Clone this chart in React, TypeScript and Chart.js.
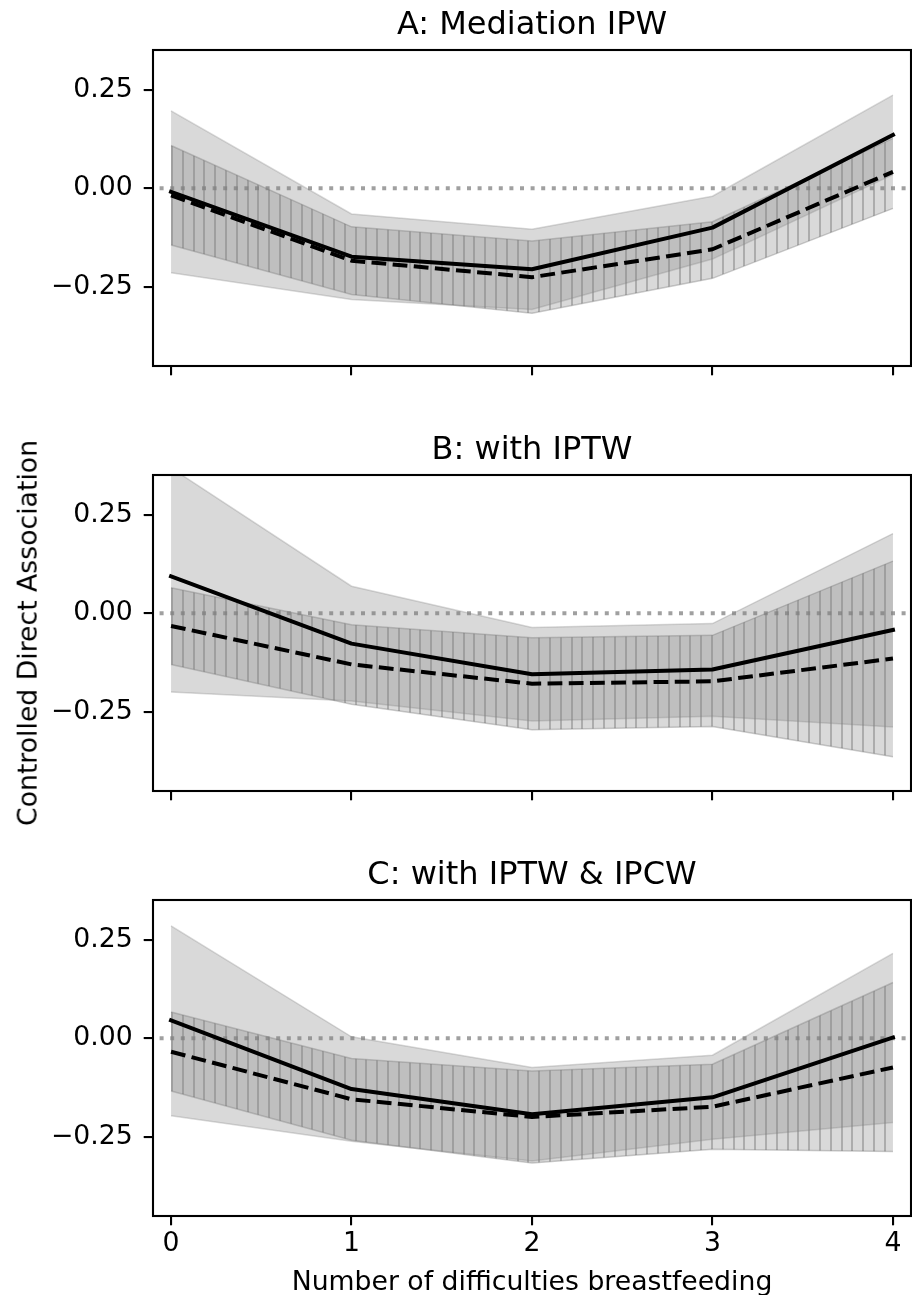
import React, { useEffect, useRef } from "react";
import { Chart, registerables } from "chart.js";

Chart.register(...registerables);

// ---------------- data ----------------
const X_VALUES = [0, 1, 2, 3, 4];
const X_TICKS = [0, 1, 2, 3, 4];
const Y_TICKS = [-0.25, 0, 0.25];
const X_LIMITS = [-0.1, 4.1];
const Y_LIMITS = [-0.452, 0.352];
const ZERO_LEVEL = 0;

const TITLES = ["A: Mediation IPW", "B: with IPTW", "C: with IPTW & IPCW"];
const Y_LABEL = "Controlled Direct Association";
const X_LABEL = "Number of difficulties breastfeeding";

// Panel A: Mediation IPW
const A_SOLID = [-0.009, -0.174, -0.206, -0.1, 0.136];
const A_SOLID_HI = [0.197, -0.065, -0.104, -0.02, 0.237];
const A_SOLID_LO = [-0.215, -0.283, -0.308, -0.18, 0.035];
const A_DASHED = [-0.018, -0.184, -0.226, -0.155, 0.042];
const A_DASHED_HI = [0.109, -0.098, -0.134, -0.085, 0.127];
const A_DASHED_LO = [-0.144, -0.27, -0.318, -0.229, -0.051];

// Panel B: with IPTW
const B_SOLID = [0.094, -0.077, -0.155, -0.143, -0.042];
const B_SOLID_HI = [0.37, 0.069, -0.036, -0.026, 0.203];
const B_SOLID_LO = [-0.2, -0.223, -0.274, -0.262, -0.289];
const B_DASHED = [-0.032, -0.13, -0.179, -0.173, -0.115];
const B_DASHED_HI = [0.065, -0.029, -0.062, -0.056, 0.133];
const B_DASHED_LO = [-0.13, -0.231, -0.296, -0.288, -0.365];

// Panel C: with IPTW & IPCW
const C_SOLID = [0.046, -0.129, -0.193, -0.15, 0.002];
const C_SOLID_HI = [0.286, 0.004, -0.074, -0.043, 0.216];
const C_SOLID_LO = [-0.197, -0.262, -0.312, -0.257, -0.214];
const C_DASHED = [-0.034, -0.155, -0.2, -0.174, -0.074];
const C_DASHED_HI = [0.067, -0.051, -0.083, -0.066, 0.142];
const C_DASHED_LO = [-0.134, -0.259, -0.317, -0.282, -0.288];

// ---------------- styling ----------------
const FONT = "'DejaVu Sans', 'Liberation Sans', sans-serif";
const TICK_SIZE = 26.7;
const TITLE_SIZE = 32;
const LABEL_SIZE = 26.7;
const PLOT_LEFT = 153;
const PLOT_TOP_PAD = 50;
const PLOT_BOTTOM = 366;
const SPINE_W = 2.1;
const TICK_LEN = 9.3;
const BAND_FILL = "rgba(128,128,128,0.3)";

const fmtY = (v: number) =>
  (v < 0 ? "\u2212" : "") + Math.abs(v).toFixed(2);

const pts = (ys: number[]) => X_VALUES.map((x, i) => ({ x, y: ys[i] }));

function makeHatch(): CanvasPattern | string {
  const tile = document.createElement("canvas");
  tile.width = 54;
  tile.height = 8;
  const c = tile.getContext("2d");
  if (!c) return BAND_FILL;
  c.fillStyle = BAND_FILL;
  c.fillRect(0, 0, 54, 8);
  c.fillStyle = "rgba(90,90,90,0.35)";
  [9, 20, 31, 41, 52].forEach((x) => c.fillRect(x, 0, 2, 8));
  const p = c.createPattern(tile, "repeat");
  return p || BAND_FILL;
}

const framePlugin = {
  id: "frame",
  afterDatasetsDraw(chart: any) {
    const { ctx, chartArea: a } = chart;
    ctx.save();
    ctx.strokeStyle = "#000";
    ctx.lineWidth = SPINE_W;
    ctx.strokeRect(a.left, a.top, a.right - a.left, a.bottom - a.top);
    ctx.restore();
  },
};

type PanelProps = {
  top: number;
  height: number;
  solid: number[];
  solidHi: number[];
  solidLo: number[];
  dashed: number[];
  dashedHi: number[];
  dashedLo: number[];
  showXLabels: boolean;
};

function Panel(props: PanelProps) {
  const ref = useRef<HTMLCanvasElement>(null);
  useEffect(() => {
    const canvas = ref.current;
    if (!canvas) return;
    const hatch = makeHatch();
    const xHeight = props.height - PLOT_BOTTOM;
    const gridOpts = {
      drawOnChartArea: false,
      drawTicks: true,
      tickLength: TICK_LEN,
      tickWidth: SPINE_W,
      tickColor: "#000",
      color: "#000",
      lineWidth: SPINE_W,
    };
    const chart = new Chart(canvas, {
      type: "line",
      data: {
        datasets: [
          {
            label: "solid",
            data: pts(props.solid),
            borderColor: "#000",
            borderWidth: 4,
            pointRadius: 0,
            fill: false,
            borderCapStyle: "square",
            borderJoinStyle: "round",
            clip: 0,
          },
          {
            label: "dashed",
            data: pts(props.dashed),
            borderColor: "#000",
            borderWidth: 4,
            borderDash: [14.8, 6.4],
            pointRadius: 0,
            fill: false,
            borderCapStyle: "butt",
            borderJoinStyle: "round",
            clip: 0,
          },
          {
            label: "zero",
            data: X_LIMITS.map((x) => ({ x, y: ZERO_LEVEL })),
            borderColor: "rgba(128,128,128,0.75)",
            borderWidth: 4,
            borderDash: [4, 6.6],
            borderDashOffset: 4,
            pointRadius: 0,
            fill: false,
            clip: 0,
          },
          {
            label: "solidHi",
            data: pts(props.solidHi),
            borderColor: BAND_FILL,
            borderWidth: 1.5,
            backgroundColor: BAND_FILL,
            pointRadius: 0,
            fill: "+1",
            clip: 0,
          },
          {
            label: "solidLo",
            data: pts(props.solidLo),
            borderColor: BAND_FILL,
            borderWidth: 1.5,
            pointRadius: 0,
            fill: false,
            clip: 0,
          },
          {
            label: "dashedHi",
            data: pts(props.dashedHi),
            borderColor: "rgba(110,110,110,0.35)",
            borderWidth: 1.5,
            backgroundColor: hatch as any,
            pointRadius: 0,
            fill: "+1",
            clip: 0,
          },
          {
            label: "dashedLo",
            data: pts(props.dashedLo),
            borderColor: "rgba(110,110,110,0.35)",
            borderWidth: 1.5,
            pointRadius: 0,
            fill: false,
            clip: 0,
          },
        ],
      },
      options: {
        responsive: false,
        animation: false,
        devicePixelRatio: 1,
        events: [],
        layout: { padding: { top: PLOT_TOP_PAD, left: 0, right: 1, bottom: 0 } },
        plugins: {
          legend: { display: false },
          tooltip: { enabled: false },
          title: { display: false },
        },
        elements: { line: { tension: 0 } },
        scales: {
          x: {
            type: "linear",
            min: X_LIMITS[0],
            max: X_LIMITS[1],
            afterBuildTicks: (s: any) => {
              s.ticks = X_TICKS.map((v) => ({ value: v }));
            },
            afterFit: (s: any) => {
              s.height = xHeight;
            },
            ticks: {
              display: props.showXLabels,
              padding: 3,
              color: "#000",
              font: { family: FONT, size: TICK_SIZE },
              maxRotation: 0,
              autoSkip: false,
              callback: (v: any) => String(v),
            },
            grid: gridOpts,
            border: { display: false },
          },
          y: {
            type: "linear",
            min: Y_LIMITS[0],
            max: Y_LIMITS[1],
            afterBuildTicks: (s: any) => {
              s.ticks = Y_TICKS.map((v) => ({ value: v }));
            },
            afterFit: (s: any) => {
              s.width = PLOT_LEFT;
            },
            ticks: {
              padding: 11,
              color: "#000",
              font: { family: FONT, size: TICK_SIZE },
              callback: (v: any) => fmtY(Number(v)),
            },
            grid: gridOpts,
            border: { display: false },
          },
        },
      } as any,
      plugins: [framePlugin],
    });
    return () => chart.destroy();
  }, []);
  return (
    <canvas
      ref={ref}
      width={912}
      height={props.height}
      style={{ position: "absolute", left: 0, top: props.top }}
    />
  );
}

const PANEL_TOPS = [0, 425, 850];
const PANEL_HEIGHTS = [400, 400, 445];

export default function App() {
  const panels = [
    { solid: A_SOLID, solidHi: A_SOLID_HI, solidLo: A_SOLID_LO, dashed: A_DASHED, dashedHi: A_DASHED_HI, dashedLo: A_DASHED_LO },
    { solid: B_SOLID, solidHi: B_SOLID_HI, solidLo: B_SOLID_LO, dashed: B_DASHED, dashedHi: B_DASHED_HI, dashedLo: B_DASHED_LO },
    { solid: C_SOLID, solidHi: C_SOLID_HI, solidLo: C_SOLID_LO, dashed: C_DASHED, dashedHi: C_DASHED_HI, dashedLo: C_DASHED_LO },
  ];
  const textBase: React.CSSProperties = {
    position: "absolute",
    fontFamily: FONT,
    color: "#000",
    lineHeight: 1,
    whiteSpace: "nowrap",
  };
  return (
    <div
      style={{
        position: "absolute",
        left: 0,
        top: 0,
        width: 912,
        height: 1295,
        background: "#fff",
        overflow: "hidden",
      }}
    >
      {panels.map((p, i) => (
        <Panel
          key={i}
          top={PANEL_TOPS[i]}
          height={PANEL_HEIGHTS[i]}
          showXLabels={i === 2}
          {...p}
        />
      ))}
      {TITLES.map((t, i) => (
        <div
          key={t}
          style={{
            ...textBase,
            left: PLOT_LEFT,
            width: 758,
            textAlign: "center",
            fontSize: TITLE_SIZE,
            top: PANEL_TOPS[i] + 7,
          }}
        >
          {t}
        </div>
      ))}
      <div
        style={{
          ...textBase,
          left: 28.3,
          top: 633,
          fontSize: LABEL_SIZE,
          transform: "translate(-50%, -50%) rotate(-90deg)",
        }}
      >
        {Y_LABEL}
      </div>
      <div
        style={{
          ...textBase,
          left: PLOT_LEFT,
          width: 758,
          textAlign: "center",
          fontSize: LABEL_SIZE,
          top: 1268.4,
        }}
      >
        {X_LABEL}
      </div>
    </div>
  );
}
